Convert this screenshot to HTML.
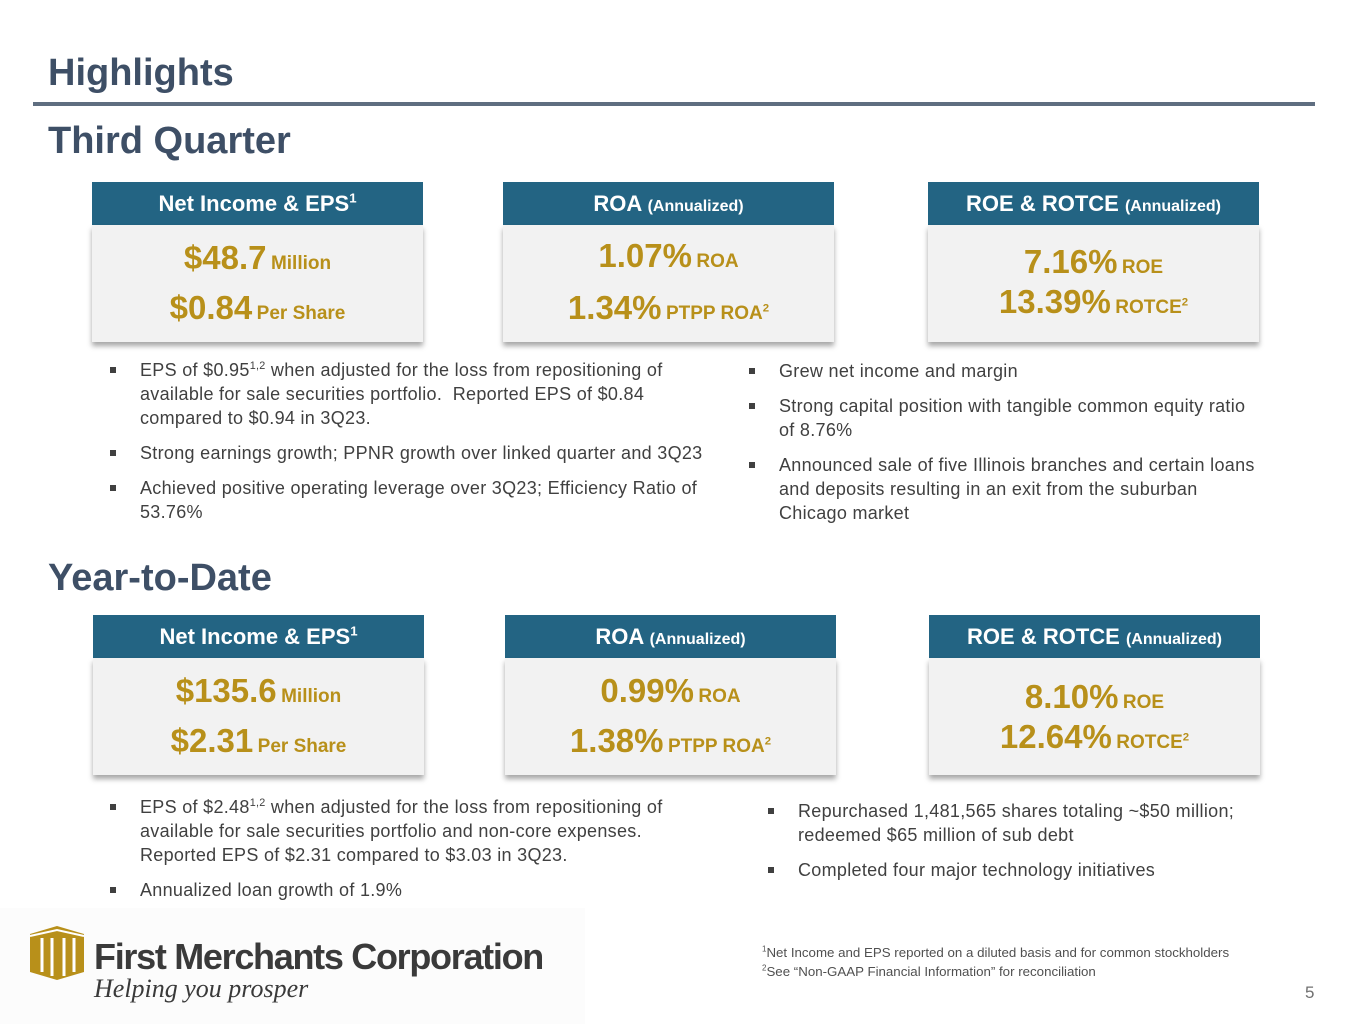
<!DOCTYPE html>
<html><head><meta charset="utf-8"><style>
*{margin:0;padding:0;box-sizing:border-box}
body{width:1365px;height:1024px;background:#fff;position:relative;overflow:hidden;font-family:"Liberation Sans",sans-serif;color:#404040}
.abs{position:absolute}
.h1{left:48px;top:52px;font-size:38px;font-weight:bold;color:#3e4f66}
.rule{left:33px;top:102px;width:1282px;height:4px;background:#5f6e80}
.h2{left:48px;font-size:38px;font-weight:bold;color:#3e4f66}
.card{position:absolute;width:331px;height:160px}
.card .hd{height:43px;background:#236483;color:#fff;font-weight:bold;font-size:22px;text-align:center;line-height:43px}
.card .hd small{font-size:16px}
.card .bd{height:117px;background:#f2f2f2;box-shadow:0 4px 5px rgba(0,0,0,.35);text-align:center;color:#b8901a;font-weight:bold}
.big{font-size:33px}.sm{font-size:19px}
sup{font-size:60%;vertical-align:super;line-height:0}
.ul{position:absolute;font-size:18px;letter-spacing:0.3px;line-height:24px;white-space:nowrap}
.ul li{list-style:none;position:relative;margin-bottom:11px}
.ul li:before{content:"";position:absolute;left:-30px;top:9px;width:6px;height:6px;background:#404040}
</style></head><body>
<div class="abs h1">Highlights</div>
<div class="abs rule"></div>
<div class="abs h2" style="top:120px">Third Quarter</div>

<div class="card" style="left:92px;top:182px"><div class="hd">Net Income &amp; EPS<sup>1</sup></div><div class="bd"><div style="padding-top:14px"><span class="big">$48.7</span> <span class="sm">Million</span></div><div style="padding-top:12px"><span class="big">$0.84</span> <span class="sm">Per Share</span></div></div></div>
<div class="card" style="left:503px;top:182px"><div class="hd">ROA <small>(Annualized)</small></div><div class="bd"><div style="padding-top:12px"><span class="big">1.07%</span> <span class="sm">ROA</span></div><div style="padding-top:14px"><span class="big">1.34%</span> <span class="sm">PTPP ROA<sup>2</sup></span></div></div></div>
<div class="card" style="left:928px;top:182px"><div class="hd">ROE &amp; ROTCE <small>(Annualized)</small></div><div class="bd"><div style="padding-top:18px"><span class="big">7.16%</span> <span class="sm">ROE</span></div><div style="padding-top:2px"><span class="big">13.39%</span> <span class="sm">ROTCE<sup>2</sup></span></div></div></div>

<ul class="ul" style="left:140px;top:358px">
<li>EPS of $0.95<sup>1,2</sup> when adjusted for the loss from repositioning of<br>available for sale securities portfolio.&nbsp; Reported EPS of $0.84<br>compared to $0.94 in 3Q23.</li>
<li>Strong earnings growth; PPNR growth over linked quarter and 3Q23</li>
<li>Achieved positive operating leverage over 3Q23; Efficiency Ratio of<br>53.76%</li></ul>
<ul class="ul" style="left:779px;top:359px">
<li>Grew net income and margin</li>
<li>Strong capital position with tangible common equity ratio<br>of 8.76%</li>
<li>Announced sale of five Illinois branches and certain loans<br>and deposits resulting in an exit from the suburban<br>Chicago market</li></ul>

<div class="abs h2" style="top:557px">Year-to-Date</div>

<div class="card" style="left:93px;top:615px"><div class="hd">Net Income &amp; EPS<sup>1</sup></div><div class="bd"><div style="padding-top:14px"><span class="big">$135.6</span> <span class="sm">Million</span></div><div style="padding-top:12px"><span class="big">$2.31</span> <span class="sm">Per Share</span></div></div></div>
<div class="card" style="left:505px;top:615px"><div class="hd">ROA <small>(Annualized)</small></div><div class="bd"><div style="padding-top:14px"><span class="big">0.99%</span> <span class="sm">ROA</span></div><div style="padding-top:12px"><span class="big">1.38%</span> <span class="sm">PTPP ROA<sup>2</sup></span></div></div></div>
<div class="card" style="left:929px;top:615px"><div class="hd">ROE &amp; ROTCE <small>(Annualized)</small></div><div class="bd"><div style="padding-top:20px"><span class="big">8.10%</span> <span class="sm">ROE</span></div><div style="padding-top:2px"><span class="big">12.64%</span> <span class="sm">ROTCE<sup>2</sup></span></div></div></div>

<ul class="ul" style="left:140px;top:795px">
<li>EPS of $2.48<sup>1,2</sup> when adjusted for the loss from repositioning of<br>available for sale securities portfolio and non-core expenses.<br>Reported EPS of $2.31 compared to $3.03 in 3Q23.</li>
<li>Annualized loan growth of 1.9%</li></ul>
<ul class="ul" style="left:798px;top:799px">
<li>Repurchased 1,481,565 shares totaling ~$50 million;<br>redeemed $65 million of sub debt</li>
<li>Completed four major technology initiatives</li></ul>

<div class="abs" style="left:0;top:908px;width:585px;height:116px;background:#fcfcfc">
<svg class="abs" style="left:28px;top:16px" width="58" height="58" viewBox="0 0 58 58"><path d="M2 10 L29 2 L56 10 L56 48 L29 56 L2 48Z" fill="#b8901a"/><path d="M14 14v34M24 14v38M36 14v38M46 14v34" stroke="#fff" stroke-width="3"/><path d="M2 12 L29 6 L56 12" stroke="#fff" stroke-width="2" fill="none"/></svg>
<div class="abs" style="left:94px;top:28px;font-size:36px;font-weight:bold;color:#3a3a3a;letter-spacing:-1.3px">First Merchants Corporation</div>
<div class="abs" style="left:94px;top:66px;font-family:'Liberation Serif',serif;font-style:italic;font-size:26px;color:#3a3a3a">Helping you prosper</div>
</div>
<div class="abs" style="left:762px;top:943px;font-size:13.3px;line-height:19px;color:#505050"><sup>1</sup>Net Income and EPS reported on a diluted basis and for common stockholders<br><sup>2</sup>See “Non-GAAP Financial Information” for reconciliation</div>
<div class="abs" style="left:1305px;top:983px;font-size:17px;color:#707070">5</div>
</body></html>
